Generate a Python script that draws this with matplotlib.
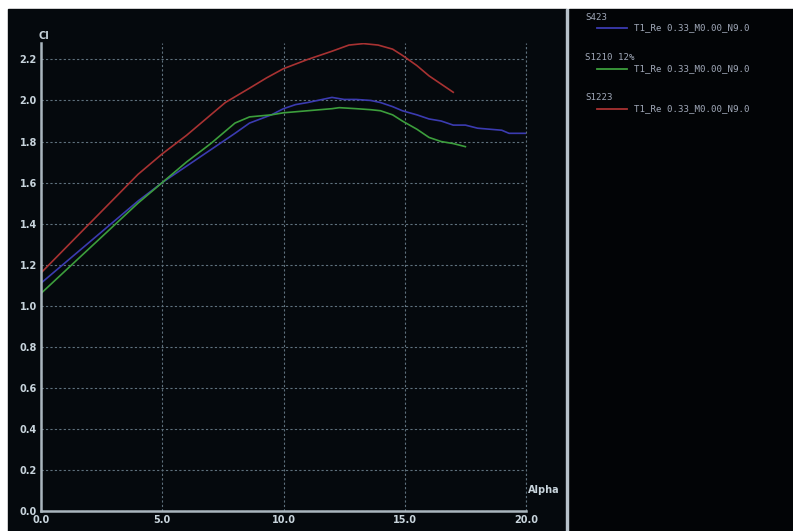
import numpy as np
import matplotlib.pyplot as plt
from matplotlib.patches import Rectangle
from matplotlib.lines import Line2D

# lift curves, Cl against Alpha (deg)
alpha_s423 = [0.0, 1.0, 2.0, 3.0, 4.0, 5.0, 6.0, 7.0, 7.5, 8.0, 8.6, 9.5, 10.0, 10.5, 11.0,
              12.0, 12.5, 13.0, 13.6, 14.0, 14.5, 14.9, 15.5, 16.0, 16.5, 17.0, 17.5,
              18.0, 18.5, 19.0, 19.3, 20.0]
cl_s423 = [1.11, 1.21, 1.31, 1.41, 1.51, 1.60, 1.68, 1.76, 1.80, 1.84, 1.89, 1.93, 1.96, 1.98, 1.99,
           2.015, 2.005, 2.005, 2.00, 1.99, 1.97, 1.95, 1.93, 1.91, 1.90, 1.88, 1.88,
           1.865, 1.86, 1.855, 1.84, 1.84]

alpha_s1210 = [0.0, 1.0, 2.0, 3.0, 4.0, 5.0, 6.0, 7.0, 7.5, 8.0, 8.6, 9.5, 10.0, 11.0, 12.0,
               12.3, 13.0, 13.6, 14.0, 14.5, 14.9, 15.5, 16.0, 16.5, 17.0, 17.5]
cl_s1210 = [1.06, 1.17, 1.28, 1.39, 1.50, 1.60, 1.70, 1.79, 1.84, 1.89, 1.92, 1.93, 1.94, 1.95, 1.96,
            1.965, 1.96, 1.955, 1.95, 1.93, 1.90, 1.86, 1.82, 1.80, 1.79, 1.775]

alpha_s1223 = [0.0, 1.0, 2.0, 3.0, 4.0, 5.0, 6.0, 7.0, 7.6, 8.6, 9.3, 10.0, 11.0, 12.0, 12.7,
               13.3, 13.9, 14.5, 14.9, 15.5, 16.0, 16.5, 17.0]
cl_s1223 = [1.16, 1.28, 1.40, 1.52, 1.64, 1.74, 1.83, 1.93, 1.99, 2.06, 2.11, 2.155, 2.20, 2.24, 2.27,
            2.277, 2.27, 2.25, 2.22, 2.17, 2.12, 2.08, 2.04]

series = [('S423', alpha_s423, cl_s423, '#3b3bb0'),
          ('S1210 12%', alpha_s1210, cl_s1210, '#3c9e3c'),
          ('S1223', alpha_s1223, cl_s1223, '#a83232')]
run_name = 'T1_Re 0.33_M0.00_N9.0'

W, H = 793, 531
fig = plt.figure(figsize=(W / 100, H / 100), dpi=100, facecolor='white')

# dark panels behind plot and legend
for x0, w, col in [(8, 558, '#05090d'), (569, W - 569, '#020406'), (566, 2, '#b8c2ca')]:
    fig.patches.append(Rectangle((x0 / W, 0), w / W, (H - 9) / H,
                                 transform=fig.transFigure, color=col, zorder=-10))

ax = fig.add_axes([41 / W, 20 / H, 485 / W, 468 / H])
ax.set_zorder(5)
ax.patch.set_visible(False)
for name, a, c, col in series:
    ax.plot(a, c, color=col, lw=1.2)

ax.set_xlim(0, 20)
ax.set_ylim(0, 2.28)
xt = np.arange(0, 20.1, 5)
yt = np.arange(0, 2.21, 0.2)
ax.set_xticks(xt)
ax.set_yticks(yt)
ax.set_xticklabels(['%.1f' % v for v in xt])
ax.set_yticklabels(['%.1f' % v for v in yt])
grid_kw = dict(color='#5f717d', ls=(0, (2, 2)), lw=0.8)
ax.grid(True, **grid_kw)
# right-hand grid line at the last tick sits on the axes edge
ax.axvline(20, clip_on=False, zorder=0.5, **grid_kw)
ax.tick_params(colors='#c8d4dc', labelsize=7, length=0, pad=3)
for lab in ax.get_xticklabels() + ax.get_yticklabels():
    lab.set_fontweight('bold')
for s in ['top', 'right']:
    ax.spines[s].set_visible(False)
for s in ['left', 'bottom']:
    ax.spines[s].set_color('#aab6be')
    ax.spines[s].set_linewidth(1.8)
ax.set_axisbelow(True)

ax.text(-0.006, 1.005, 'Cl', transform=ax.transAxes, color='#c8d4dc', fontsize=7,
        fontweight='bold', va='bottom', ha='left')
ax.text(1.003, 0.045, 'Alpha', transform=ax.transAxes, color='#c8d4dc', fontsize=7,
        fontweight='bold', va='center', ha='left')

# legend panel
mono = 'DejaVu Sans Mono'
for i, (name, a, c, col) in enumerate(series):
    y0 = 17 + 40.5 * i
    fig.text(585 / W, 1 - y0 / H, name, color='#a0a8b8', fontsize=6.6,
             family=mono, va='center', ha='left')
    fig.add_artist(Line2D([597 / W, 627 / W], [1 - (y0 + 11) / H] * 2,
                          color=col, lw=1.3, transform=fig.transFigure))
    fig.text(634 / W, 1 - (y0 + 11) / H, run_name, color='#a0a8b8', fontsize=6.6,
             family=mono, va='center', ha='left')

fig.savefig('out.png', dpi=100, facecolor='white')
